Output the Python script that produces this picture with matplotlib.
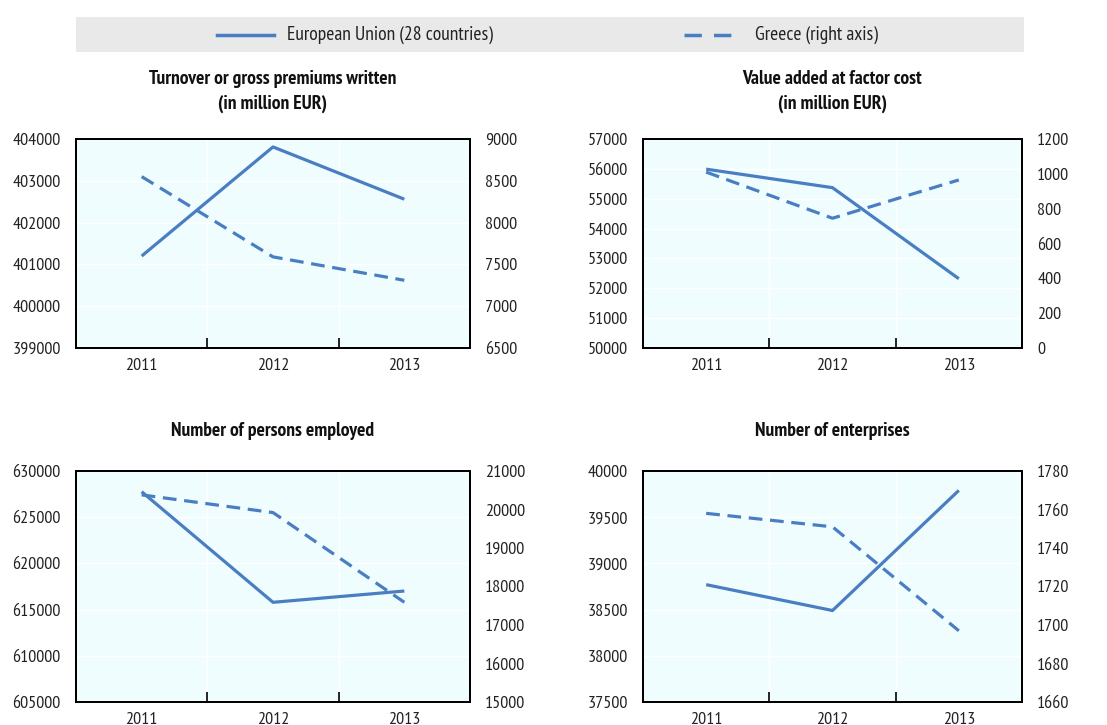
import numpy as np
import matplotlib
matplotlib.use("Agg")
from matplotlib import pyplot as plt
from matplotlib import font_manager
from matplotlib.lines import Line2D

# narrow face like the original (Arial Narrow look)
wanted = ["Liberation Sans Narrow", "Arial Narrow", "PT Sans Narrow", "Roboto Condensed", "Archivo Narrow"]
have = set(f.name for f in font_manager.fontManager.ttflist)
fams = [f for f in wanted if f in have]
plt.rcParams["font.family"] = fams[:1] + ["Liberation Sans", "DejaVu Sans"]

# data
years = ["2011", "2012", "2013"]

titles = ["Turnover or gross premiums written\n(in million EUR)",
          "Value added at factor cost\n(in million EUR)",
          "Number of persons employed",
          "Number of enterprises"]

eu_turnover = [401200, 403810, 402560]
gr_turnover = [8550, 7590, 7310]
eu_value = [55990, 55370, 52320]
gr_value = [1010, 745, 965]
eu_persons = [627760, 615790, 617010]
gr_persons = [20380, 19920, 17590]
eu_enterprises = [38770, 38490, 39790]
gr_enterprises = [1758, 1751, 1697]

left_ticks = [np.arange(399000, 404001, 1000), np.arange(50000, 57001, 1000),
              np.arange(605000, 630001, 5000), np.arange(37500, 40001, 500)]
right_ticks = [np.arange(6500, 9001, 500), np.arange(0, 1201, 200),
               np.arange(15000, 21001, 1000), np.arange(1660, 1781, 20)]

eu_series = [eu_turnover, eu_value, eu_persons, eu_enterprises]
gr_series = [gr_turnover, gr_value, gr_persons, gr_enterprises]

blue = "#4A7EC2"
bg = "#F0FDFF"
W, H = 1107, 725
fs = 13

fig = plt.figure(figsize=(W / 100, H / 100), dpi=100)

# axes boxes in pixels (left, top, right, bottom)
boxes = [(76, 139, 470, 348), (643, 139, 1022, 348),
         (76, 471, 470, 702), (643, 471, 1022, 702)]

x = np.arange(len(years))
for i, (l, t, r, b) in enumerate(boxes):
    ax = fig.add_axes([l / W, 1 - b / H, (r - l) / W, (b - t) / H])
    ax.set_facecolor(bg)
    ax.plot(x, eu_series[i], color=blue, lw=2.3, solid_capstyle="butt")
    ax.set_xlim(-0.5, 2.5)
    ax.set_ylim(left_ticks[i][0], left_ticks[i][-1])
    ax.set_yticks(left_ticks[i])
    ax.set_yticklabels([str(v) for v in left_ticks[i]])
    ax.set_xticks(x)
    ax.set_xticklabels(years)
    ax.set_xticks([0.5, 1.5], minor=True)
    ax.tick_params(axis="x", which="major", length=0, pad=7, labelsize=fs, colors="#222222")
    ax.tick_params(axis="x", which="minor", length=7, direction="in", width=1.2, color="black")
    ax.tick_params(axis="y", length=0, pad=11, labelsize=fs, colors="#222222")
    ax.grid(True, which="major", axis="y", color="white", lw=1)
    ax.grid(True, which="minor", axis="x", color="white", lw=1)
    ax.set_axisbelow(True)
    for s in ax.spines.values():
        s.set_linewidth(1.4)
        s.set_color("black")
    ax.set_title(titles[i], fontsize=14, fontweight="bold", pad=22 if i < 2 else 25,
                 color="#111111", linespacing=1.45)

    ax2 = ax.twinx()
    ax2.plot(x, gr_series[i], color=blue, lw=2.3, dashes=(4.3, 2.4))
    ax2.set_ylim(right_ticks[i][0], right_ticks[i][-1])
    ax2.set_yticks(right_ticks[i])
    ax2.set_yticklabels([str(v) for v in right_ticks[i]])
    ax2.tick_params(axis="y", length=0, pad=11, labelsize=fs, colors="#222222")
    for s in ax2.spines.values():
        s.set_linewidth(1.4)
        s.set_color("black")

# legend band
lax = fig.add_axes([76 / W, 1 - 52 / H, 948 / W, 35 / H])
lax.set_facecolor("#E9E9E9")
lax.set_xlim(76, 1024)
lax.set_ylim(0, 1)
lax.set_xticks([])
lax.set_yticks([])
for s in lax.spines.values():
    s.set_visible(False)
lax.add_line(Line2D([217, 274], [0.5, 0.5], color=blue, lw=2.5))
lax.text(287, 0.5, "European Union (28 countries)", fontsize=14, va="center", color="#222222")
lax.add_line(Line2D([684, 731], [0.5, 0.5], color=blue, lw=2.5, dashes=(5, 3.5)))
lax.text(755, 0.5, "Greece (right axis)", fontsize=14, va="center", color="#222222")

fig.savefig("out.png", dpi=100)
